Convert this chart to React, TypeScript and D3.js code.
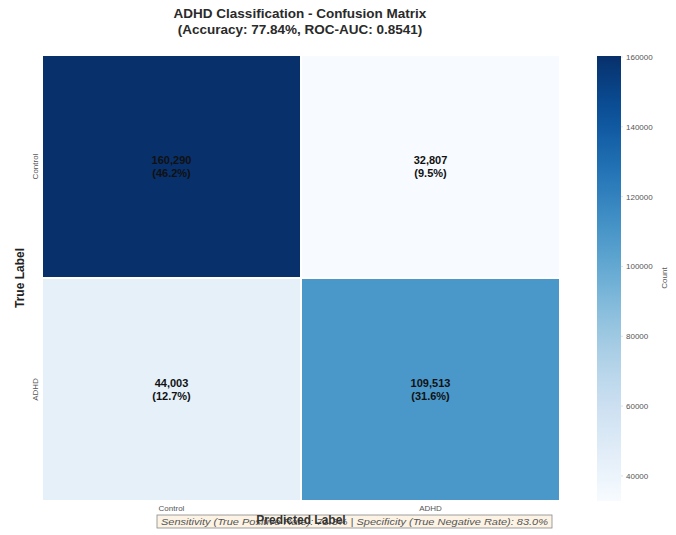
import React from "react";
import * as d3 from "d3";

const trueLabels = ["Control", "ADHD"];
const predLabels = ["Control", "ADHD"];
const counts = [
  [160290, 32807],
  [44003, 109513],
];
const cbTicks = [40000, 60000, 80000, 100000, 120000, 140000, 160000];
const titleLines = [
  "ADHD Classification - Confusion Matrix",
  "(Accuracy: 77.84%, ROC-AUC: 0.8541)",
];
const statsText =
  "Sensitivity (True Positive Rate): 71.3% | Specificity (True Negative Rate): 83.0%";

const W = 676;
const H = 535;
const FONT = "'Liberation Sans', Arial, sans-serif";

export default function App() {
  const flat = counts.flat();
  const total = d3.sum(flat);
  const vmin = d3.min(flat) as number;
  const vmax = d3.max(flat) as number;
  const color = d3.scaleSequential(d3.interpolateBlues).domain([vmin, vmax]);

  const x = d3.scaleBand<string>().domain(predLabels).range([42, 560]);
  const y = d3.scaleBand<string>().domain(trueLabels).range([55, 501]);

  const cbX = 597;
  const cbW = 24;
  const cbY = d3.scaleLinear().domain([vmin, vmax]).range([501, 56]);
  const stops = d3.range(0, 1.0001, 0.05);
  const fmt = d3.format(",");

  return (
    <div style={{ position: "absolute", left: 0, top: 0 }}>
      <svg width={W} height={H} style={{ display: "block", background: "#fff" }}>
        <defs>
          <linearGradient id="cb" x1="0" y1="1" x2="0" y2="0">
            {stops.map((t) => (
              <stop key={t} offset={`${t * 100}%`} stopColor={d3.interpolateBlues(t)} />
            ))}
          </linearGradient>
        </defs>
        {titleLines.map((t, i) => (
          <text
            key={i}
            x={300}
            y={18 + i * 16}
            textAnchor="middle"
            fontFamily={FONT}
            fontWeight="bold"
            fontSize={13.5}
            fill="#2a2a2a"
          >
            {t}
          </text>
        ))}
        {trueLabels.map((tl, i) =>
          predLabels.map((pl, j) => {
            const v = counts[i][j];
            const cx = (x(pl) as number) + x.bandwidth() / 2;
            const cy = (y(tl) as number) + y.bandwidth() / 2;
            return (
              <g key={`${i}-${j}`}>
                <rect
                  x={x(pl)}
                  y={y(tl)}
                  width={x.bandwidth()}
                  height={y.bandwidth()}
                  fill={color(v)}
                  stroke="#fff"
                  strokeWidth={2}
                />
                <text
                  x={cx}
                  y={cy - 3}
                  textAnchor="middle"
                  fontFamily={FONT}
                  fontWeight="bold"
                  fontSize={11}
                  fill="#111"
                >
                  {fmt(v)}
                </text>
                <text
                  x={cx}
                  y={cy + 10}
                  textAnchor="middle"
                  fontFamily={FONT}
                  fontWeight="bold"
                  fontSize={11}
                  fill="#111"
                >
                  {`(${((v / total) * 100).toFixed(1)}%)`}
                </text>
              </g>
            );
          })
        )}
        {trueLabels.map((tl) => {
          const cy = (y(tl) as number) + y.bandwidth() / 2;
          return (
            <text
              key={tl}
              transform={`translate(38,${cy}) rotate(-90)`}
              textAnchor="middle"
              fontFamily={FONT}
              fontSize={8}
              fill="#555"
            >
              {tl}
            </text>
          );
        })}
        {predLabels.map((pl) => {
          const cx = (x(pl) as number) + x.bandwidth() / 2;
          return (
            <text
              key={pl}
              x={cx}
              y={511}
              textAnchor="middle"
              fontFamily={FONT}
              fontSize={8}
              fill="#555"
            >
              {pl}
            </text>
          );
        })}
        <text
          transform={`translate(24,278) rotate(-90)`}
          textAnchor="middle"
          fontFamily={FONT}
          fontWeight="bold"
          fontSize={12}
          fill="#222"
        >
          True Label
        </text>
        <rect
          x={157}
          y={515}
          width={395}
          height={13}
          fill="#f5deb3"
          fillOpacity={0.35}
          stroke="#888"
          strokeWidth={0.8}
        />
        <text
          x={161}
          y={525}
          textLength={387}
          lengthAdjust="spacingAndGlyphs"
          fontFamily={FONT}
          fontStyle="italic"
          fontSize={9}
          fill="#555"
        >
          {statsText}
        </text>
        <text
          x={301}
          y={524}
          textAnchor="middle"
          fontFamily={FONT}
          fontWeight="bold"
          fontSize={12}
          fill="#333"
        >
          Predicted Label
        </text>
        <rect x={cbX} y={56} width={cbW} height={445} fill="url(#cb)" />
        {cbTicks.map((t) => (
          <g key={t}>
            <line x1={cbX + cbW} x2={cbX + cbW + 2} y1={cbY(t)} y2={cbY(t)} stroke="#ccc" strokeWidth={0.6} />
            <text
              x={cbX + cbW + 5}
              y={cbY(t) + 3}
              fontFamily={FONT}
              fontSize={8}
              fill="#555"
            >
              {t}
            </text>
          </g>
        ))}
        <text
          transform={`translate(667,278) rotate(-90)`}
          textAnchor="middle"
          fontFamily={FONT}
          fontSize={8}
          fill="#555"
        >
          Count
        </text>
      </svg>
    </div>
  );
}
